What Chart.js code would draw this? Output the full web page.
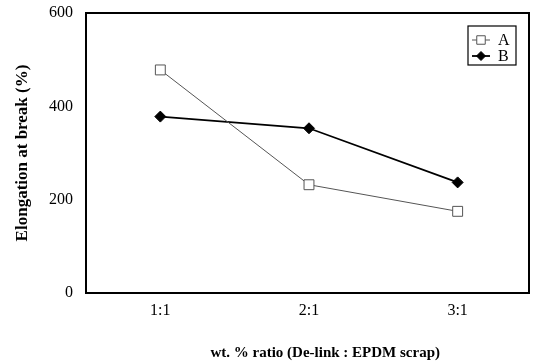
<!DOCTYPE html>
<html><head><meta charset="utf-8">
<script src="https://cdn.jsdelivr.net/npm/chart.js@4/dist/chart.umd.min.js"></script>
<style>html,body{margin:0;padding:0;background:#fff}</style>
</head><body>
<canvas id="c" width="537" height="363"></canvas>
<script>
const categories = ['1:1', '2:1', '3:1'];
const seriesA = [478, 232, 175];
const seriesB = [378, 353, 237];
const yTicks = [0, 200, 400, 600];
const seriesNames = ['A', 'B'];
const yTitle = 'Elongation at break (%)';
const xTitle = 'wt. % ratio (De-link : EPDM scrap)';

const SERIF = '"Liberation Serif", "Times New Roman", serif';

const toPoints = arr => arr.map((v, i) => ({x: i + 1, y: v}));

const framePlugin = {
  id: 'frameLegend',
  afterDraw(chart) {
    const {ctx, chartArea: a} = chart;
    ctx.save();
    ctx.strokeStyle = '#000';
    ctx.lineWidth = 2;
    ctx.strokeRect(a.left, a.top, a.right - a.left, a.bottom - a.top);
    ctx.fillStyle = '#000';
    ctx.font = 'bold 15px ' + SERIF;
    ctx.textAlign = 'center';
    ctx.textBaseline = 'middle';
    ctx.fillText(xTitle, a.left + (a.right - a.left) * 0.54, 353);
    const lx = 468, ly = 26, lw = 48, lh = 39;
    ctx.lineWidth = 1.2;
    ctx.strokeStyle = '#000';
    ctx.strokeRect(lx, ly, lw, lh);
    const rows = [40, 56];
    chart.data.datasets.forEach((ds, i) => {
      const y = rows[i];
      ctx.strokeStyle = ds.borderColor;
      ctx.lineWidth = ds.borderWidth;
      ctx.beginPath();
      ctx.moveTo(lx + 4, y);
      ctx.lineTo(lx + 22, y);
      ctx.stroke();
      ctx.fillStyle = ds.pointBackgroundColor;
      ctx.strokeStyle = ds.pointBorderColor;
      ctx.lineWidth = ds.pointBorderWidth;
      Chart.helpers.drawPoint(ctx, {pointStyle: ds.pointStyle, radius: ds.pointRadius - 1, borderWidth: ds.pointBorderWidth}, lx + 13, y);
      ctx.fillStyle = '#000';
      ctx.font = '16px ' + SERIF;
      ctx.textAlign = 'left';
      ctx.textBaseline = 'middle';
      ctx.fillText(seriesNames[i], lx + 30, y + 1);
    });
    ctx.restore();
  }
};

new Chart(document.getElementById('c'), {
  type: 'line',
  data: {
    datasets: [
      {
        label: seriesNames[0],
        data: toPoints(seriesA),
        borderColor: '#555',
        borderWidth: 1,
        pointStyle: 'rect',
        pointRadius: 7,
        pointBackgroundColor: '#fff',
        pointBorderColor: '#555',
        pointBorderWidth: 1,
        tension: 0
      },
      {
        label: seriesNames[1],
        data: toPoints(seriesB),
        borderColor: '#000',
        borderWidth: 1.8,
        pointStyle: 'rectRot',
        pointRadius: 5.5,
        pointBackgroundColor: '#000',
        pointBorderColor: '#000',
        pointBorderWidth: 1,
        tension: 0
      }
    ]
  },
  options: {
    responsive: false,
    animation: false,
    layout: {padding: {left: 0, right: 6, top: 13, bottom: 0}},
    plugins: {legend: {display: false}, tooltip: {enabled: false}},
    scales: {
      x: {
        type: 'linear',
        min: 0.5,
        max: 3.48,
        grid: {display: false, drawTicks: false},
        border: {display: false},
        afterBuildTicks: s => { s.ticks = categories.map((c, i) => ({value: i + 1})); },
        afterFit: s => { s.height = 70; s.paddingLeft = 0; s.paddingRight = 0; },
        ticks: {
          color: '#000',
          padding: 8,
          font: {family: SERIF, size: 16},
          callback: (v) => categories[v - 1]
        }
      },
      y: {
        min: 0,
        max: 600,
        grid: {display: false, drawTicks: false},
        border: {display: false},
        afterBuildTicks: s => { s.ticks = yTicks.map(v => ({value: v})); },
        afterFit: s => { s.width = 86; s.paddingTop = 0; s.paddingBottom = 0; },
        ticks: {
          color: '#000',
          padding: 13,
          font: {family: SERIF, size: 16}
        },
        title: {
          display: true,
          text: yTitle,
          color: '#000',
          padding: {top: 12, bottom: 0},
          font: {family: SERIF, size: 17, weight: 'bold'}
        }
      }
    }
  },
  plugins: [framePlugin]
});
</script>
</body></html>
